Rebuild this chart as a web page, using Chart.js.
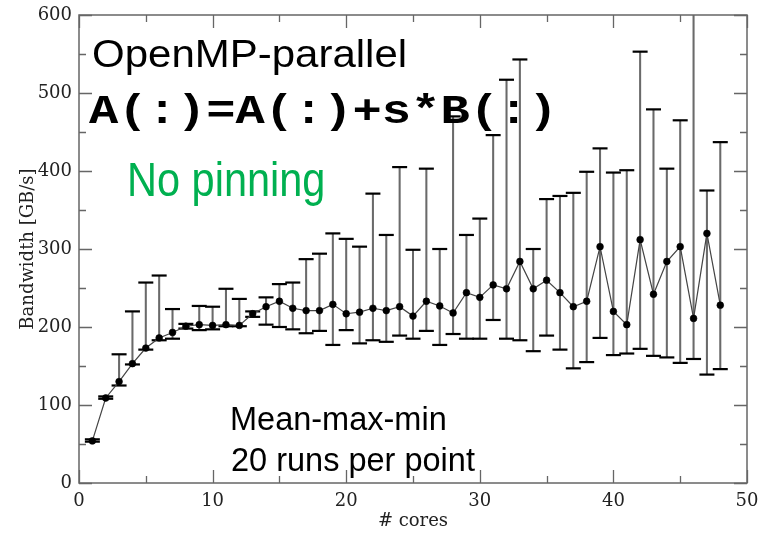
<!DOCTYPE html>
<html>
<head>
<meta charset="utf-8">
<script src="https://cdn.jsdelivr.net/npm/chart.js@4.4.1/dist/chart.umd.min.js"></script>
<style>
html,body{margin:0;padding:0;background:#fff;}
#wrap{position:relative;width:760px;height:533px;overflow:hidden;background:#fff;}
#c{position:absolute;left:0;top:0;}
.ov{position:absolute;white-space:nowrap;line-height:1;margin:0;padding:0;}
#t1{font-family:"Liberation Sans",Arial,sans-serif;font-size:42px;color:#000;left:92px;top:32.4px;transform:scaleY(0.93);transform-origin:0 35.5px;}
#t2{font-family:"Liberation Mono","Courier New",monospace;font-weight:bold;font-size:48.8px;color:#000;left:89px;top:85.6px;transform:scaleY(0.82);transform-origin:0 37.4px;}
#t3{font-family:"Liberation Sans",Arial,sans-serif;font-size:41.5px;color:#00b050;left:127px;top:161.4px;transform:scaleY(1.17);transform-origin:0 35.1px;}
#t4{font-family:"Liberation Sans",Arial,sans-serif;font-size:32.5px;color:#000;left:230px;top:402.5px;}
#t5{font-family:"Liberation Sans",Arial,sans-serif;font-size:32.5px;color:#000;left:231px;top:443.5px;}
</style>
</head>
<body>
<div id="wrap">
<canvas id="c" width="760" height="533"></canvas>
<div class="ov" id="t1">OpenMP-parallel</div>
<div class="ov" id="t2">A(:)=A(:)+s*B(:)</div>
<div class="ov" id="t3">No pinning</div>
<div class="ov" id="t4">Mean-max-min</div>
<div class="ov" id="t5">20 runs per point</div>
</div>
<script>
// ---- data ----
const cores = [1,2,3,4,5,6,7,8,9,10,11,12,13,14,15,16,17,18,19,20,21,22,23,24,
               25,26,27,28,29,30,31,32,33,34,35,36,37,38,39,40,41,42,43,44,45,46,47,48];
const meanBW = [54,109,130,153,173,186,193,201,203,202,203,202,217,226,233,224,221,221,229,217,219,224,221,226,
                214,233,227,218,244,238,254,249,284,249,260,244,226,233,303,220,203,312,242,284,303,211,320,228];
const maxBW  = [56,111,165,220,257,266,223,204,227,226,249,236,220,238,255,257,287,294,320,313,303,371,318,405,
                299,403,300,470,318,339,446,517,543,300,364,368,372,399,429,398,401,553,479,403,465,640,375,437];
const minBW  = [53,108,125,152,171,183,185,198,196,197,201,201,213,203,200,197,192,195,177,196,179,183,181,189,
                185,195,177,191,185,185,209,185,183,169,189,171,147,155,186,164,166,172,163,161,154,159,139,146];
const xTickValues = [0,10,20,30,40,50];
const yTickValues = [0,100,200,300,400,500,600];
const xTitle = '# cores';
const yTitle = 'Bandwidth [GB/s]';

const rangeData = cores.map((c,i)=>({x:c, y:[minBW[i], maxBW[i]]}));
const maxData = cores.map((c,i)=>({x:c, y:maxBW[i]}));
const minData = cores.map((c,i)=>({x:c, y:minBW[i]}));
const meanData = cores.map((c,i)=>({x:c, y:meanBW[i]}));

const AXIS = '#666';
const serif = '"DejaVu Serif", "Liberation Serif", serif';

// frame and inward ticks (major + minor) using the chart's scales
const frameTicks = {
  id: 'frameTicks',
  afterDraw(chart) {
    const {ctx, chartArea: a, scales} = chart;
    const x = scales.x, y = scales.y;
    ctx.save();
    ctx.strokeStyle = AXIS;
    ctx.lineWidth = 1.5;
    ctx.strokeRect(a.left, a.top, a.right - a.left, a.bottom - a.top);
    ctx.lineWidth = 1.3;
    ctx.beginPath();
    const xs = xTickValues;
    for (let i = 0; i < xs.length; i++) {
      const v = xs[i];
      const px = Math.round(x.getPixelForValue(v)) + 0.5;
      ctx.moveTo(px, a.bottom); ctx.lineTo(px, a.bottom - 13);
      ctx.moveTo(px, a.top); ctx.lineTo(px, a.top + 13);
      if (i < xs.length - 1) {
        const m = Math.round(x.getPixelForValue((v + xs[i+1]) / 2)) + 0.5;
        ctx.moveTo(m, a.bottom); ctx.lineTo(m, a.bottom - 7);
        ctx.moveTo(m, a.top); ctx.lineTo(m, a.top + 7);
      }
    }
    const ys = yTickValues;
    for (let i = 0; i < ys.length; i++) {
      const v = ys[i];
      const py = Math.round(y.getPixelForValue(v)) + 0.5;
      ctx.moveTo(a.left, py); ctx.lineTo(a.left + 13, py);
      ctx.moveTo(a.right, py); ctx.lineTo(a.right - 13, py);
      if (i < ys.length - 1) {
        const m = Math.round(y.getPixelForValue((v + ys[i+1]) / 2)) + 0.5;
        ctx.moveTo(a.left, m); ctx.lineTo(a.left + 7, m);
        ctx.moveTo(a.right, m); ctx.lineTo(a.right - 7, m);
      }
    }
    ctx.stroke();
    ctx.restore();
  }
};

new Chart(document.getElementById('c'), {
  type: 'line',
  data: {
    datasets: [
      {
        type: 'bar',
        data: rangeData,
        backgroundColor: '#6a6a6a',
        borderWidth: 0,
        barThickness: 1.4,
        clip: 0,
        order: 4
      },
      {
        type: 'line',
        data: maxData,
        showLine: false,
        pointStyle: 'line',
        pointRadius: 7.5,
        pointBorderWidth: 2.2,
        pointBorderColor: '#000',
        clip: 0,
        order: 3
      },
      {
        type: 'line',
        data: minData,
        showLine: false,
        pointStyle: 'line',
        pointRadius: 7.5,
        pointBorderWidth: 2.2,
        pointBorderColor: '#000',
        clip: 0,
        order: 2
      },
      {
        type: 'line',
        data: meanData,
        borderColor: '#444',
        borderWidth: 1.2,
        tension: 0,
        pointRadius: 3.4,
        pointBackgroundColor: '#000',
        pointBorderColor: '#000',
        pointBorderWidth: 0.6,
        clip: 0,
        order: 1
      }
    ]
  },
  options: {
    responsive: false,
    animation: false,
    devicePixelRatio: 1,
    layout: { padding: { top: 15, right: 13, left: 0, bottom: 0 } },
    plugins: { legend: { display: false }, tooltip: { enabled: false } },
    scales: {
      x: {
        type: 'linear',
        min: 0, max: 50,
        offset: false,
        grid: { display: false, drawTicks: false, offset: false },
        border: { display: false },
        afterBuildTicks: (s) => { s.ticks = xTickValues.map(v => ({value: v})); },
        ticks: { padding: 8, color: '#222', font: { family: serif, size: 18 }, maxRotation: 0, autoSkip: false },
        title: { display: true, text: xTitle, color: '#222', font: { family: serif, size: 18 }, padding: { top: 0, bottom: 1 } },
        afterFit: (s) => { s.height = 50; s.paddingLeft = 0; s.paddingRight = 0; }
      },
      y: {
        type: 'linear',
        min: 0, max: 600,
        grid: { display: false, drawTicks: false },
        border: { display: false },
        afterBuildTicks: (s) => { s.ticks = yTickValues.map(v => ({value: v})); },
        ticks: { padding: 7, color: '#222', font: { family: serif, size: 18 }, autoSkip: false },
        title: { display: true, text: yTitle, color: '#222', font: { family: serif, size: 18 }, padding: { top: 18, bottom: 0 } },
        afterFit: (s) => { s.width = 79; s.paddingTop = 0; s.paddingBottom = 0; }
      }
    }
  },
  plugins: [frameTicks]
});
</script>
</body>
</html>
